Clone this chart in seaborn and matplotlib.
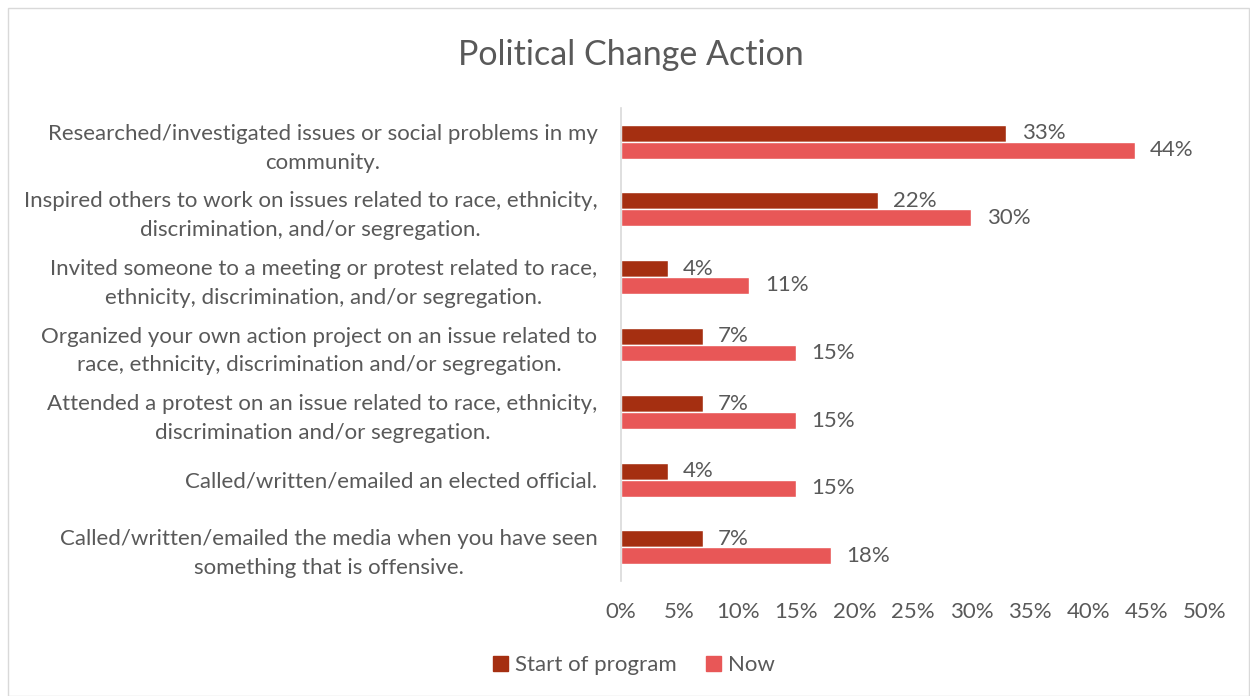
import matplotlib
matplotlib.use("Agg")
import matplotlib.pyplot as plt
from matplotlib.patches import Rectangle
import pandas as pd
import seaborn as sns

actions = [
    "Researched/investigated issues or social problems in my\ncommunity.",
    "Inspired others to work on issues related to race, ethnicity,\ndiscrimination, and/or segregation.",
    "Invited someone to a meeting or protest related to race,\nethnicity, discrimination, and/or segregation.",
    "Organized your own action project on an issue related to\nrace, ethnicity, discrimination and/or segregation.",
    "Attended a protest on an issue related to race, ethnicity,\ndiscrimination and/or segregation.",
    "Called/written/emailed an elected official.",
    "Called/written/emailed the media when you have seen\nsomething that is offensive.",
]
start_of_program = [33, 22, 4, 7, 7, 4, 7]
now = [44, 30, 11, 15, 15, 15, 18]
periods = ["Start of program", "Now"]
x_ticks = [0, 5, 10, 15, 20, 25, 30, 35, 40, 45, 50]

df = pd.DataFrame({
    "Action": actions * 2,
    "Percent": start_of_program + now,
    "Period": [periods[0]] * len(actions) + [periods[1]] * len(actions),
})

sns.set_theme(style="white")
plt.rcParams["font.family"] = ["Lato", "DejaVu Sans"]
text_color = "#595959"
font_size = 16
palette = {"Start of program": "#A52F11", "Now": "#E85757"}

fig = plt.figure(figsize=(12.5, 6.96), dpi=100)
ax = fig.add_axes([0.4968, 0.1652, 0.4672, 0.6796])

sns.barplot(data=df, y="Action", x="Percent", hue="Period", order=actions,
            hue_order=periods, palette=palette, orient="h", width=0.5,
            saturation=1, ax=ax, legend=False)

for container in ax.containers:
    ax.bar_label(container, fmt="%d%%", padding=11, fontsize=font_size,
                 color=text_color)

ax.set_xlim(0, 50)
ax.set_ylim(len(actions) - 0.5, -0.5)
ax.set_xticks(x_ticks)
ax.set_xticklabels([f"{t}%" for t in x_ticks])
ax.set_xlabel("")
ax.set_ylabel("")
ax.tick_params(axis="x", length=0, pad=15, labelsize=font_size, labelcolor=text_color)
ax.tick_params(axis="y", length=0, pad=17, labelsize=font_size, labelcolor=text_color)
for lbl in ax.get_yticklabels():
    lbl.set_multialignment("center")
    lbl.set_linespacing(1.55)
    lbl.set_va("center_baseline")

for side in ["top", "right", "bottom"]:
    ax.spines[side].set_visible(False)
ax.spines["left"].set_color("#D9D9D9")
ax.spines["left"].set_linewidth(1.2)
ax.grid(False)

fig.text(0.505, 0.921, "Political Change Action", ha="center", va="center",
         fontsize=24.5, color=text_color)

handles = [Rectangle((0, 0), 1, 1, color=palette[p]) for p in periods]
fig.legend(handles, periods, loc="center", bbox_to_anchor=(0.507, 0.044),
           ncol=2, frameon=False, fontsize=font_size, labelcolor=text_color,
           handlelength=0.7, handleheight=0.7, handletextpad=0.3,
           columnspacing=1.3)

fig.add_artist(Rectangle((0.006, 0.0), 0.993, 0.988, transform=fig.transFigure,
                         fill=False, edgecolor="#D9D9D9", linewidth=1))

fig.savefig("out.png", dpi=100)
